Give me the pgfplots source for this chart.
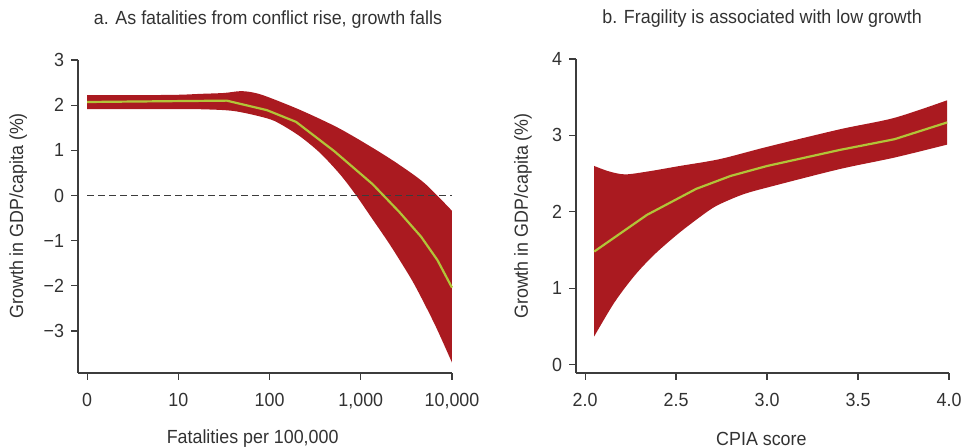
\documentclass[border=0pt]{standalone}
\usepackage{fontspec}
\setmainfont{Liberation Sans}[FakeStretch=0.94]
\usepackage{pgfplots}
\pgfplotsset{compat=1.18}
\usepgfplotslibrary{fillbetween}
\definecolor{bandred}{RGB}{170,26,32}
\definecolor{linegreen}{RGB}{178,196,56}
\definecolor{txt}{RGB}{50,50,50}
\definecolor{axc}{RGB}{60,60,60}
\pgfplotsset{
 myaxis/.style={
  scale only axis,
  axis x line*=bottom, axis y line*=left,
  axis line style={-, draw=axc, line width=0.6pt},
  tick align=outside, major tick length=3.5pt,
  tick style={draw=axc, line width=0.6pt},
  tick label style={font=\fontsize{9.5}{11}\selectfont, text=txt},
  xticklabel style={yshift=-3pt},
  label style={font=\fontsize{9.5}{11}\selectfont, text=txt},
  title style={font=\fontsize{9.5}{11}\selectfont, text=txt},
  /pgf/number format/assume math mode=true,
  clip=false,
 }
}
\begin{document}
\begin{tikzpicture}
\begin{axis}[myaxis,
  at={(39pt,37.5pt)}, anchor=south west,
  width=187pt, height=156.5pt,
  xmin=-0.1, xmax=4, ymin=-3.93, ymax=3,
  xtick={0,1,2,3,4}, xticklabels={0,10,100,{1,000},{10,000}},
  ytick={-3,-2,-1,0,1,2,3}, yticklabels={−3,−2,−1,0,1,2,3},
  title={a. As fatalities from conflict rise, growth falls},
  title style={at={(rel axis cs:0.508,1.092)}, anchor=center},
  xlabel={Fatalities per 100,000},
  xlabel style={at={(rel axis cs:0.467,-0.211)}, anchor=center},
  ylabel={Growth in GDP/capita (\%)},
  ylabel style={at={(rel axis cs:-0.160,0.502)}, anchor=center},
]
\addplot[axc, line width=0.6pt, dash pattern=on 3.5pt off 2pt, forget plot] coordinates {(0,0) (4,0)};
\addplot[draw=none, name path=UA, smooth, tension=0.5, forget plot] coordinates {
(0,2.22) (0.5,2.22) (1.0,2.23) (1.24,2.25) (1.5,2.27) (1.68,2.31) (1.82,2.28) (1.97,2.19)
(2.34,1.89) (2.75,1.50) (3.11,1.08) (3.40,0.71) (3.70,0.27) (4.0,-0.34)};
\addplot[draw=none, name path=LA, smooth, tension=0.5, forget plot] coordinates {
(0,1.91) (0.5,1.91) (1.0,1.91) (1.24,1.91) (1.61,1.87) (1.97,1.71) (2.12,1.58) (2.34,1.30)
(2.56,0.93) (2.78,0.45) (2.95,0.0) (3.11,-0.47) (3.29,-1.00) (3.42,-1.41) (3.59,-1.98)
(3.81,-2.85) (4.0,-3.70)};
\addplot[bandred, draw=none] fill between[of=UA and LA];
\addplot[linegreen, line width=1.1pt] coordinates {
(0,2.07) (0.5,2.08) (1.0,2.09) (1.53,2.10) (1.97,1.89) (2.29,1.63) (2.71,0.98)
(3.13,0.25) (3.42,-0.36) (3.66,-0.91) (3.84,-1.43) (4.0,-2.04)};
\end{axis}
\begin{axis}[myaxis,
  at={(288pt,37.5pt)}, anchor=south west,
  width=186.5pt, height=157pt,
  xmin=1.95, xmax=4, ymin=-0.109, ymax=4,
  xtick={2,2.5,3,3.5,4}, xticklabels={2.0,2.5,3.0,3.5,4.0},
  ytick={0,1,2,3,4}, yticklabels={0,1,2,3,4},
  title={b. Fragility is associated with low growth},
  title style={at={(rel axis cs:0.499,1.090)}, anchor=center},
  xlabel={CPIA score},
  xlabel style={at={(rel axis cs:0.497,-0.210)}, anchor=center},
  ylabel={Growth in GDP/capita (\%)},
  ylabel style={at={(rel axis cs:-0.142,0.500)}, anchor=center},
]
\addplot[draw=none, name path=UB, smooth, tension=0.5, forget plot] coordinates {
(2.05,2.60) (2.13,2.53) (2.22,2.49) (2.35,2.53) (2.52,2.60) (2.74,2.69) (3.0,2.85)
(3.40,3.08) (3.70,3.23) (3.99,3.46)};
\addplot[draw=none, name path=LB, smooth, tension=0.5, forget plot] coordinates {
(2.05,0.37) (2.16,0.81) (2.27,1.16) (2.38,1.44) (2.52,1.73) (2.67,2.00) (2.74,2.10)
(2.87,2.23) (3.02,2.33) (3.40,2.56) (3.70,2.71) (3.99,2.88)};
\addplot[bandred, draw=none] fill between[of=UB and LB];
\addplot[linegreen, line width=1.1pt] coordinates {
(2.05,1.48) (2.34,1.96) (2.61,2.30) (2.8,2.47) (3.0,2.60) (3.40,2.81) (3.70,2.95) (3.99,3.17)};
\end{axis}
\pgfresetboundingbox
\useasboundingbox (0,0) rectangle (481pt,224pt);
\end{tikzpicture}
\end{document}
